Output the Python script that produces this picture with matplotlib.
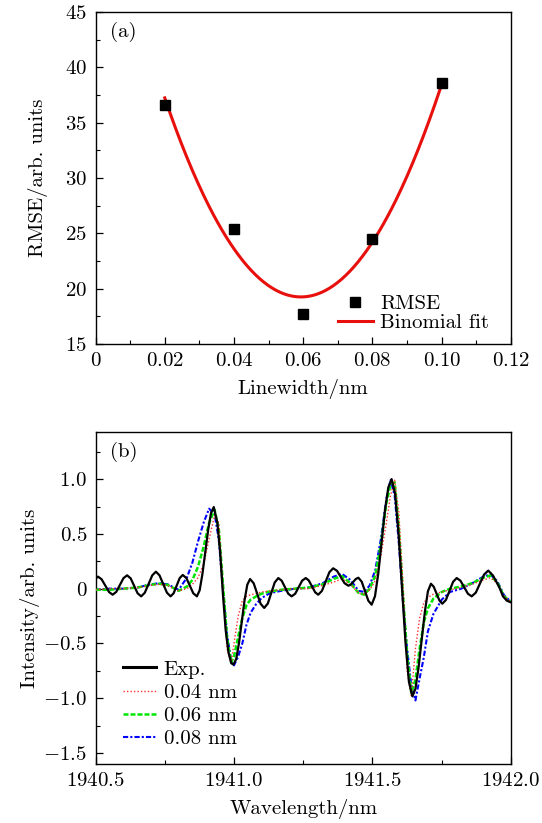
"""RMSE vs linewidth and experimental / simulated spectra, two stacked panels."""

import matplotlib
matplotlib.use('Agg')
import matplotlib.pyplot as plt
from matplotlib.ticker import FixedLocator, FixedFormatter, MultipleLocator
import numpy as np

plt.rcParams['font.family'] = 'serif'
plt.rcParams['font.serif'] = ['cmr10']
plt.rcParams['mathtext.fontset'] = 'cm'
plt.rcParams['axes.unicode_minus'] = False
plt.rcParams['axes.formatter.use_mathtext'] = True

FS = 15

# panel (a)
linewidth_nm = [0.02, 0.04, 0.06, 0.08, 0.10]
rmse = [36.6, 25.4, 17.7, 24.5, 38.6]

# panel (b): experiment
wl_exp = [1940.500, 1940.509, 1940.522, 1940.5355, 1940.549, 1940.562,
          1940.575, 1940.588, 1940.601, 1940.614, 1940.627, 1940.6395,
          1940.652, 1940.665, 1940.678, 1940.6915, 1940.705, 1940.718,
          1940.731, 1940.7445, 1940.758, 1940.771, 1940.782, 1940.793,
          1940.804, 1940.815, 1940.828, 1940.8405, 1940.853, 1940.866,
          1940.876, 1940.886, 1940.8965, 1940.907, 1940.917, 1940.927,
          1940.940, 1940.950, 1940.960, 1940.970, 1940.980, 1940.990,
          1940.998, 1941.008, 1941.018, 1941.028, 1941.038, 1941.048,
          1941.058, 1941.071, 1941.0835, 1941.096, 1941.109, 1941.122,
          1941.1345, 1941.147, 1941.160, 1941.172, 1941.184, 1941.196,
          1941.208, 1941.221, 1941.2335, 1941.246, 1941.259, 1941.270,
          1941.2815, 1941.293, 1941.304, 1941.3175, 1941.331, 1941.3445,
          1941.358, 1941.372, 1941.3855, 1941.399, 1941.413, 1941.422,
          1941.431, 1941.440, 1941.449, 1941.461, 1941.473, 1941.485,
          1941.497, 1941.509, 1941.521, 1941.533, 1941.545, 1941.557,
          1941.569, 1941.5815, 1941.594, 1941.6065, 1941.619, 1941.6315,
          1941.644, 1941.655, 1941.666, 1941.6775, 1941.689, 1941.700,
          1941.711, 1941.721, 1941.7315, 1941.742, 1941.752, 1941.765,
          1941.778, 1941.791, 1941.804, 1941.8175, 1941.831, 1941.8445,
          1941.858, 1941.873, 1941.888, 1941.903, 1941.918, 1941.935,
          1941.950, 1941.960, 1941.971, 1941.985, 1942.000]
int_exp = [0.09, 0.11, 0.086, 0.0275, -0.031, -0.055,
           -0.029, 0.0335, 0.096, 0.122, 0.094, 0.026,
           -0.042, -0.07, -0.037, 0.0425, 0.122, 0.155,
           0.122, 0.0425, -0.037, -0.07, -0.042, 0.0275,
           0.097, 0.125, 0.097, 0.0275, -0.042, -0.07,
           -0.015, 0.134, 0.3375, 0.541, 0.69, 0.745,
           0.60, 0.33, -0.05, -0.38, -0.58, -0.68,
           -0.693, -0.641, -0.498, -0.3025, -0.107, 0.036,
           0.088, 0.0495, -0.044, -0.1375, -0.176, -0.136,
           -0.0395, 0.057, 0.097, 0.073, 0.0135, -0.046,
           -0.07, -0.046, 0.0135, 0.073, 0.097, 0.075,
           0.021, -0.033, -0.055, -0.02, 0.0655, 0.151,
           0.186, 0.163, 0.1065, 0.05, 0.027, 0.038,
           0.0635, 0.089, 0.10, 0.064, -0.023, -0.11,
           -0.146, -0.069, 0.1405, 0.427, 0.7135, 0.923,
           1.0, 0.867, 0.504, 0.0085, -0.487, -0.85,
           -0.983, -0.914, -0.726, -0.469, -0.212, -0.024,
           0.045, 0.018, -0.046, -0.11, -0.137, -0.103,
           -0.02, 0.063, 0.097, 0.073, 0.0135, -0.046,
           -0.07, -0.036, 0.0475, 0.13, 0.165, 0.12,
           0.05, 0.0, -0.07, -0.11, -0.125]

# panel (b): simulations
wl_sim = [1940.50, 1940.55, 1940.60, 1940.65, 1940.70, 1940.73, 1940.76,
          1940.80, 1940.83, 1940.85, 1940.87, 1940.89, 1940.91, 1940.93,
          1940.945, 1940.96, 1940.975, 1940.99, 1941.00, 1941.015, 1941.03,
          1941.045, 1941.06, 1941.08, 1941.10, 1941.13, 1941.17, 1941.22,
          1941.27, 1941.32, 1941.36, 1941.39, 1941.42, 1941.45, 1941.47,
          1941.49, 1941.51, 1941.53, 1941.55, 1941.565, 1941.58, 1941.595,
          1941.61, 1941.625, 1941.64, 1941.655, 1941.67, 1941.685, 1941.70,
          1941.72, 1941.75, 1941.78, 1941.82, 1941.86, 1941.90, 1941.925,
          1941.95, 1941.975, 1942.00]
int_004 = [-0.01, 0.0, 0.0, 0.01, 0.03, 0.04, 0.03,
           -0.02, 0.0, 0.04, 0.10, 0.22, 0.45, 0.67,
           0.60, 0.02, -0.55, -0.68, -0.50, -0.25, -0.11,
           -0.07, -0.055, -0.045, -0.03, -0.02, -0.01, 0.0,
           0.0, 0.03, 0.06, 0.09, 0.04, -0.04, -0.05,
           -0.01, 0.07, 0.30, 0.60, 0.85, 0.99, 0.70,
           0.05, -0.75, -0.98, -0.55, -0.27, -0.13, -0.08,
           -0.05, -0.03, -0.01, 0.01, 0.04, 0.08, 0.10,
           0.05, -0.07, -0.12]
int_006 = [-0.01, -0.01, 0.0, 0.01, 0.035, 0.045, 0.035,
           -0.02, 0.02, 0.08, 0.20, 0.38, 0.60, 0.72,
           0.55, 0.05, -0.45, -0.67, -0.62, -0.44, -0.27,
           -0.15, -0.10, -0.07, -0.045, -0.025, -0.01, 0.0,
           0.01, 0.04, 0.09, 0.115, 0.05, -0.04, -0.055,
           0.0, 0.12, 0.40, 0.78, 0.95, 0.97, 0.55,
           -0.05, -0.60, -0.95, -0.83, -0.55, -0.31, -0.18,
           -0.09, -0.03, 0.0, 0.02, 0.05, 0.10, 0.12,
           0.06, -0.07, -0.12]
int_008 = [-0.01, 0.0, 0.0, 0.01, 0.04, 0.05, 0.04,
           -0.01, 0.10, 0.24, 0.43, 0.60, 0.73, 0.68,
           0.45, 0.0, -0.42, -0.66, -0.70, -0.62, -0.50,
           -0.33, -0.22, -0.14, -0.085, -0.04, -0.02, 0.0,
           0.01, 0.05, 0.11, 0.135, 0.08, -0.02, -0.03,
           0.03, 0.17, 0.45, 0.82, 0.99, 0.85, 0.42,
           -0.12, -0.55, -0.88, -1.02, -0.82, -0.63, -0.39,
           -0.23, -0.10, -0.03, 0.0, 0.05, 0.11, 0.13,
           0.07, -0.06, -0.12]

fig = plt.figure(figsize=(5.42, 8.23), dpi=100)
ax_a = fig.add_axes([0.1762, 0.582, 0.7666, 0.4034])
ax_b = fig.add_axes([0.1762, 0.0717, 0.7666, 0.4034])


def style(ax):
    ax.tick_params(which='both', direction='in', top=False, right=False,
                   labelsize=FS, pad=6)
    ax.tick_params(which='major', length=5, width=0.9)
    ax.tick_params(which='minor', length=3, width=0.8)
    for sp in ax.spines.values():
        sp.set_linewidth(1.0)


# ---- (a) ----
coef = np.polyfit(linewidth_nm, rmse, 2)
xf = np.linspace(min(linewidth_nm), max(linewidth_nm), 200)
ax_a.plot(linewidth_nm, rmse, 's', color='black', markersize=6.5,
          label='RMSE', zorder=3)
ax_a.plot(xf, np.polyval(coef, xf), color='#e8100c', lw=2.2,
          label='Binomial fit', zorder=2)
ax_a.set_xlim(0, 0.12)
ax_a.set_ylim(15, 45)
xt_a = [0, 0.02, 0.04, 0.06, 0.08, 0.10, 0.12]
ax_a.xaxis.set_major_locator(FixedLocator(xt_a))
ax_a.xaxis.set_major_formatter(FixedFormatter(
    ['$0$', '$0.02$', '$0.04$', '$0.06$', '$0.08$', '$0.10$', '$0.12$']))
ax_a.xaxis.set_minor_locator(MultipleLocator(0.01))
yt_a = [15, 20, 25, 30, 35, 40, 45]
ax_a.yaxis.set_major_locator(FixedLocator(yt_a))
ax_a.yaxis.set_major_formatter(FixedFormatter(['$%d$' % v for v in yt_a]))
ax_a.yaxis.set_minor_locator(MultipleLocator(2.5))
style(ax_a)
ax_a.set_xlabel('Linewidth/nm', fontsize=FS, labelpad=6)
ax_a.set_ylabel('RMSE/arb. units', fontsize=FS, labelpad=12)
ax_a.text(0.036, 0.94, '(a)', transform=ax_a.transAxes, fontsize=FS,
          va='center', ha='left')
ax_a.legend(loc='upper left', bbox_to_anchor=(0.584, 0.15), frameon=False,
            fontsize=FS, handlelength=1.65, handletextpad=0.35,
            labelspacing=0.05, borderaxespad=0, borderpad=0)

# ---- (b) ----
ax_b.plot(wl_exp, int_exp, color='black', lw=1.6, label='Exp.', zorder=5)
ax_b.plot(wl_sim, int_004, color='#ff3030', lw=1.0, ls=(0, (1, 1.5)),
          label='0.04 nm', zorder=4)
ax_b.plot(wl_sim, int_006, color='#00e600', lw=1.8, ls=(0, (2, 0.8)),
          label='0.06 nm', zorder=3)
ax_b.plot(wl_sim, int_008, color='#0000ff', lw=1.5, ls=(0, (2.5, 1, 1, 1)),
          label='0.08 nm', zorder=2)
ax_b.set_xlim(1940.5, 1942.0)
ax_b.set_ylim(-1.6, 1.43)
xt_b = [1940.5, 1941.0, 1941.5, 1942.0]
ax_b.xaxis.set_major_locator(FixedLocator(xt_b))
ax_b.xaxis.set_major_formatter(FixedFormatter(['$%.1f$' % v for v in xt_b]))
ax_b.xaxis.set_minor_locator(MultipleLocator(0.25))
yt_b = [-1.5, -1.0, -0.5, 0, 0.5, 1.0]
ax_b.yaxis.set_major_locator(FixedLocator(yt_b))
ax_b.yaxis.set_major_formatter(FixedFormatter(
    ['$-1.5$', '$-1.0$', '$-0.5$', '$0$', '$0.5$', '$1.0$']))
ax_b.yaxis.set_minor_locator(MultipleLocator(0.25))
style(ax_b)
ax_b.set_xlabel('Wavelength/nm', fontsize=FS, labelpad=6)
ax_b.set_ylabel('Intensity/arb. units', fontsize=FS, labelpad=2)
ax_b.text(0.036, 0.94, '(b)', transform=ax_b.transAxes, fontsize=FS,
          va='center', ha='left')
leg = ax_b.legend(loc='upper left', bbox_to_anchor=(0.066, 0.313),
                  frameon=False, fontsize=FS, handlelength=1.6,
                  handletextpad=0.35, labelspacing=0.22, borderaxespad=0,
                  borderpad=0)
leg.get_lines()[0].set_linewidth(2.2)

fig.savefig('out.png', dpi=100)
